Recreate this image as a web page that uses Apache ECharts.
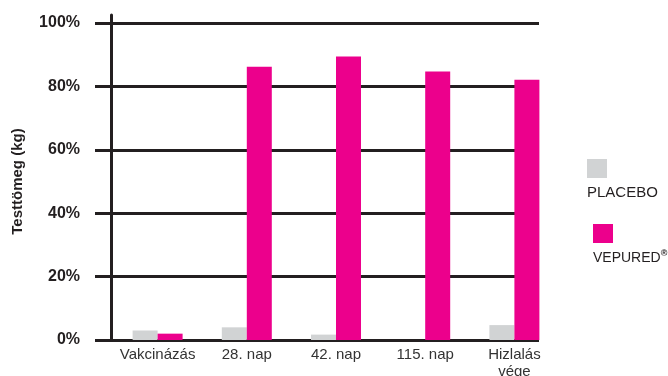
<!DOCTYPE html>
<html><head><meta charset="utf-8">
<script src="https://cdn.jsdelivr.net/npm/echarts@6/dist/echarts.min.js"></script>
<style>html,body{margin:0;padding:0;background:#fff}#c{width:668px;height:376px}</style>
</head><body><div id="c"></div><script>
const categories = ['Vakcinázás', '28. nap', '42. nap', '115. nap', 'Hizlalás\nvége'];
const seriesNames = ['PLACEBO', 'VEPURED'];
const placebo = [3.0, 4.0, 1.7, 0, 4.7];
const vepured = [2.0, 86.2, 89.4, 84.7, 82.1];
const yMin = 0, yMax = 100, yStep = 20;
const yName = 'Testtömeg (kg)';
const colors = ['#d1d3d4', '#ec008c'];

const chart = echarts.init(document.getElementById('c'), null, {renderer: 'canvas'});
const dark = '#231f20';
const font = 'Liberation Sans, Arial, Helvetica, sans-serif';

function legendFor(i, left, top, fs) {
  return {
    data: [seriesNames[i]],
    left: left, top: top, padding: 0,
    icon: 'rect', itemWidth: 0, itemHeight: 0,
    selectedMode: false,
    formatter: function (n) {
      return i === 0 ? '{b' + i + '|}\n{t|' + n + '}' : '{b' + i + '|}\n{t|' + n + '}{sup|®}';
    },
    textStyle: {
      rich: {
        b0: {width: 20, height: 19, lineHeight: 19, backgroundColor: colors[0]},
        b1: {width: 20, height: 19, lineHeight: 19, backgroundColor: colors[1]},
        t: {fontSize: fs, lineHeight: 30, color: dark, fontFamily: font},
        sup: {fontSize: 9, lineHeight: 30, color: dark, fontFamily: font, fontWeight: 'bold', verticalAlign: 'top', padding: [6, 0, 0, 0]}
      }
    }
  };
}

chart.setOption({
  animation: false,
  backgroundColor: '#fff',
  textStyle: {fontFamily: font},
  legend: [legendFor(0, 582, 159, 15), legendFor(1, 588, 224, 14)],
  grid: [
    {left: 111, right: 129, top: 15, bottom: 36, outerBoundsMode: 'none'},
    {left: 95, right: 129, top: 23, bottom: 36, outerBoundsMode: 'none'},
    {left: 113, right: 109, top: 23, bottom: 36, outerBoundsMode: 'none'}
  ],
  xAxis: [
    {gridIndex: 0, type: 'value', show: false},
    {gridIndex: 1, type: 'value', show: false},
    {gridIndex: 2, type: 'category', data: categories,
     axisLine: {show: false}, axisTick: {show: false},
     axisLabel: {interval: 0, margin: 6, fontSize: 15, lineHeight: 17, color: '#333', fontFamily: font}}
  ],
  yAxis: [
    {gridIndex: 0, type: 'value', min: 0, max: 1,
     axisLine: {show: true, lineStyle: {color: dark, width: 3}},
     axisTick: {show: false}, axisLabel: {show: false}, splitLine: {show: false}},
    {gridIndex: 1, type: 'value', min: yMin, max: yMax, interval: yStep,
     name: yName, nameLocation: 'middle', nameGap: 70, nameRotate: 90,
     nameTextStyle: {fontSize: 15, fontWeight: 'bold', color: dark, fontFamily: font},
     axisLine: {show: false}, axisTick: {show: false},
     axisLabel: {margin: 15, fontSize: 16, fontWeight: 'bold', color: dark, fontFamily: font,
                 formatter: function (v) { return v + '%'; }},
     splitLine: {show: true, lineStyle: {color: dark, width: 3}}},
    {gridIndex: 2, type: 'value', min: yMin, max: yMax, show: false, splitLine: {show: false}}
  ],
  series: [
    {name: seriesNames[0], type: 'bar', xAxisIndex: 2, yAxisIndex: 2, data: placebo,
     barWidth: 25, barGap: '0%', itemStyle: {color: colors[0]}, z: 5},
    {name: seriesNames[1], type: 'bar', xAxisIndex: 2, yAxisIndex: 2, data: vepured,
     barWidth: 25, barGap: '0%', itemStyle: {color: colors[1]}, z: 5}
  ]
});
</script></body></html>
